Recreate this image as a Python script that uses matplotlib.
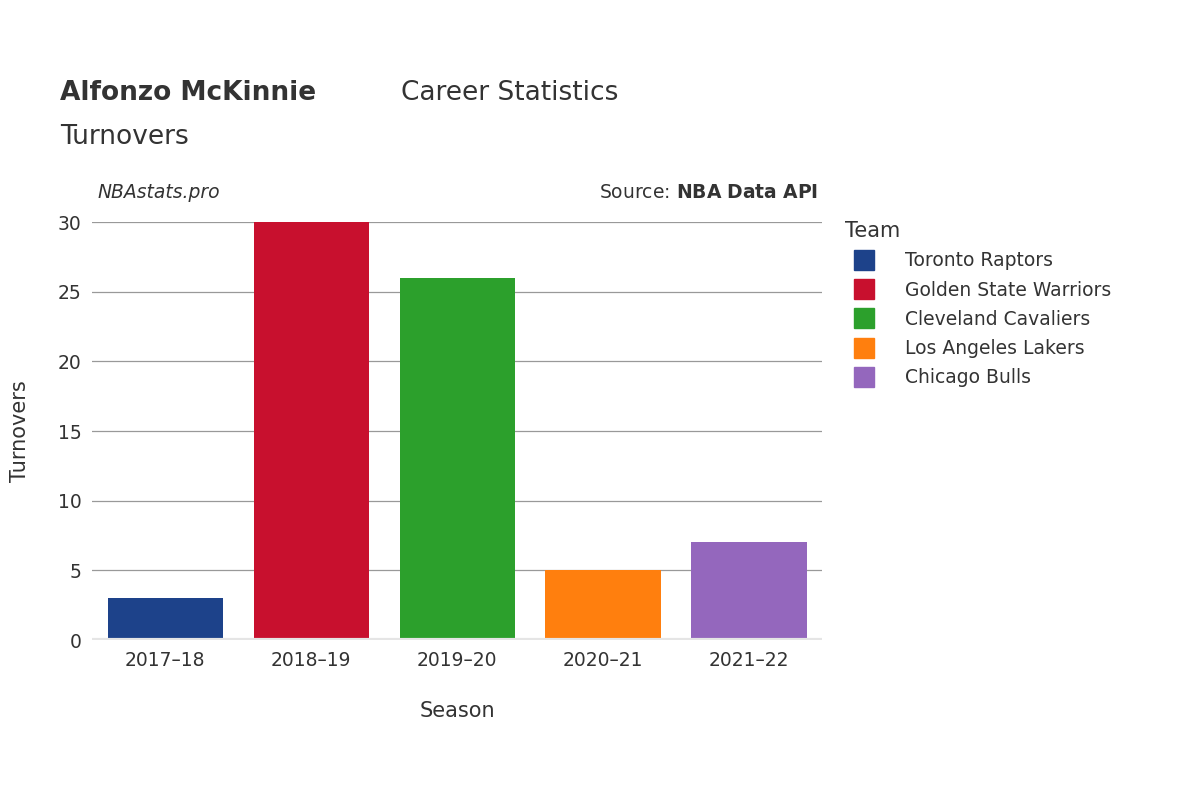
import matplotlib.pyplot as plt
from matplotlib.lines import Line2D

seasons = ['2017–18', '2018–19', '2019–20', '2020–21', '2021–22']
turnovers = [3, 30, 26, 5, 7]
teams = ['Toronto Raptors', 'Golden State Warriors', 'Cleveland Cavaliers',
         'Los Angeles Lakers', 'Chicago Bulls']
colors = ['#1d428a', '#c8102e', '#2ca02c', '#ff7f0e', '#9467bd']

txt = '#333333'
fig = plt.figure(figsize=(12, 8), dpi=100)
ax = fig.add_axes([0.077, 0.2, 0.608, 0.5225])

x = range(len(seasons))
ax.bar(x, turnovers, width=0.79, color=colors, zorder=3)
ax.set_xlim(-0.5, 4.5)
ax.set_ylim(0, 30)
ax.set_yticks([0, 5, 10, 15, 20, 25, 30])
ax.set_xticks(list(x))
ax.set_xticklabels(seasons)
ax.tick_params(length=0, labelsize=13.5, colors=txt, pad=8)
ax.grid(axis='y', color='#999999', linewidth=0.9, zorder=0)
for s in ax.spines.values():
    s.set_visible(False)
ax.axhline(0, color='#e5e5e5', linewidth=3, zorder=4)
ax.set_xlabel('Season', fontsize=15, color=txt, labelpad=22)
ax.set_ylabel('Turnovers', fontsize=15, color=txt, labelpad=20)

fig.text(0.05, 0.875, 'Alfonzo McKinnie', fontsize=19, fontweight='bold', color=txt)
fig.text(0.334, 0.875, 'Career Statistics', fontsize=19, color=txt)
fig.text(0.05, 0.82, 'Turnovers', fontsize=19, color=txt)
fig.text(0.081, 0.752, 'NBAstats.pro', fontsize=13.5, style='italic', color=txt)
fig.text(0.682, 0.752, 'Source: $\\bf{NBA\\ Data\\ API}$', fontsize=13.5, color=txt, ha='right')

handles = [Line2D([], [], marker='s', linestyle='', markersize=15, color=c) for c in colors]
leg = fig.legend(handles, teams, loc='upper left', bbox_to_anchor=(0.69, 0.745),
                 frameon=False, fontsize=13.5, title='Team', title_fontsize=15,
                 labelspacing=0.55, handletextpad=1.2, alignment='left')
for t in leg.get_texts():
    t.set_color(txt)
leg.get_title().set_color(txt)

fig.savefig('out.png')
